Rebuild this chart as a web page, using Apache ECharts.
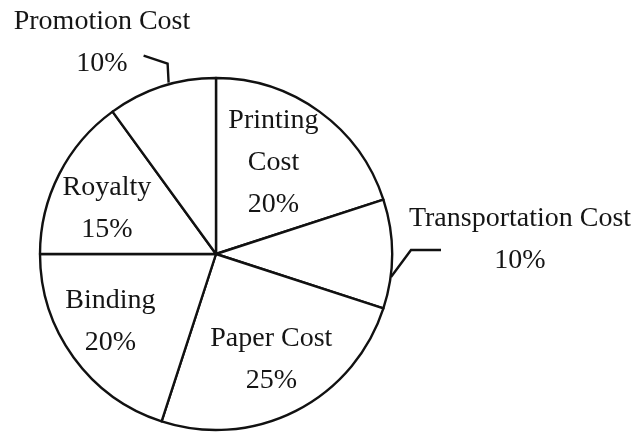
<!DOCTYPE html>
<html>
<head>
<meta charset="utf-8">
<script src="https://cdn.jsdelivr.net/npm/echarts@6/dist/echarts.min.js"></script>
<style>
  html, body { margin: 0; padding: 0; background: #fff; }
  #chart { width: 637px; height: 436px; }
</style>
</head>
<body>
<div id="chart"></div>
<script>
// slices clockwise from 12 o'clock
const categories = ['Printing Cost', 'Transportation Cost', 'Paper Cost', 'Binding', 'Royalty', 'Promotion Cost']
const shares = [20, 10, 25, 20, 15, 10]

// labels that sit outside the pie with a leader line
const outsideNames = ['Transportation Cost', 'Promotion Cost']
// name broken over two lines inside its slice
const splitNames = ['Printing Cost']

// nudge of inside labels (px) from the default inner position
const insideShift = {
  'Printing Cost': [4, -18],
  'Paper Cost': [14, 25],
  'Binding': [-32, 14],
  'Royalty': [-28, -4]
}

const chart = echarts.init(document.getElementById('chart'))

const pieData = categories.map((name, i) => {
  const outside = outsideNames.includes(name)
  return {
    name: name,
    value: shares[i],
    label: { position: outside ? 'outside' : 'inside' },
    labelLine: { show: outside }
  }
})

const option = {
  backgroundColor: '#fff',
  animation: false,
  series: [
    {
      type: 'pie',
      center: [216, 254],
      radius: 176,
      startAngle: 90,
      clockwise: true,
      avoidLabelOverlap: false,
      itemStyle: {
        color: '#fff',
        borderColor: '#111',
        borderWidth: 2.4
      },
      emphasis: { disabled: true },
      label: {
        color: '#151515',
        fontFamily: 'Liberation Serif',
        fontSize: 28,
        lineHeight: 42,
        align: 'center',
        formatter: (p) => {
          const n = splitNames.includes(p.name) ? p.name.replace(' ', '\n') : p.name
          return n + '\n' + p.value + '%'
        }
      },
      labelLine: {
        lineStyle: { color: '#111', width: 2.4 }
      },
      labelLayout: (params) => {
        const name = categories[params.dataIndex]
        if (name === 'Promotion Cost') {
          const d = params.labelLinePoints[0]
          const p0 = [d[0] + 7, d[1] - 4]
          const p1 = [p0[0] - 1, p0[1] - 19]
          const p2 = [p1[0] - 24, p1[1] - 8]
          return {
            x: 102, y: 43, align: 'center', verticalAlign: 'middle',
            labelLinePoints: [p0, p1, p2]
          }
        }
        if (name === 'Transportation Cost') {
          const d = params.labelLinePoints[0]
          const p0 = [d[0] - 1, d[1] + 23]
          const p1 = [p0[0] + 20, p0[1] - 27]
          const p2 = [p1[0] + 30, p1[1]]
          return {
            x: 520, y: 240, align: 'center', verticalAlign: 'middle',
            labelLinePoints: [p0, p1, p2]
          }
        }
        const s = insideShift[name] || [0, 0]
        return { dx: s[0], dy: s[1] }
      },
      data: pieData
    }
  ]
}

chart.setOption(option)
</script>
</body>
</html>
